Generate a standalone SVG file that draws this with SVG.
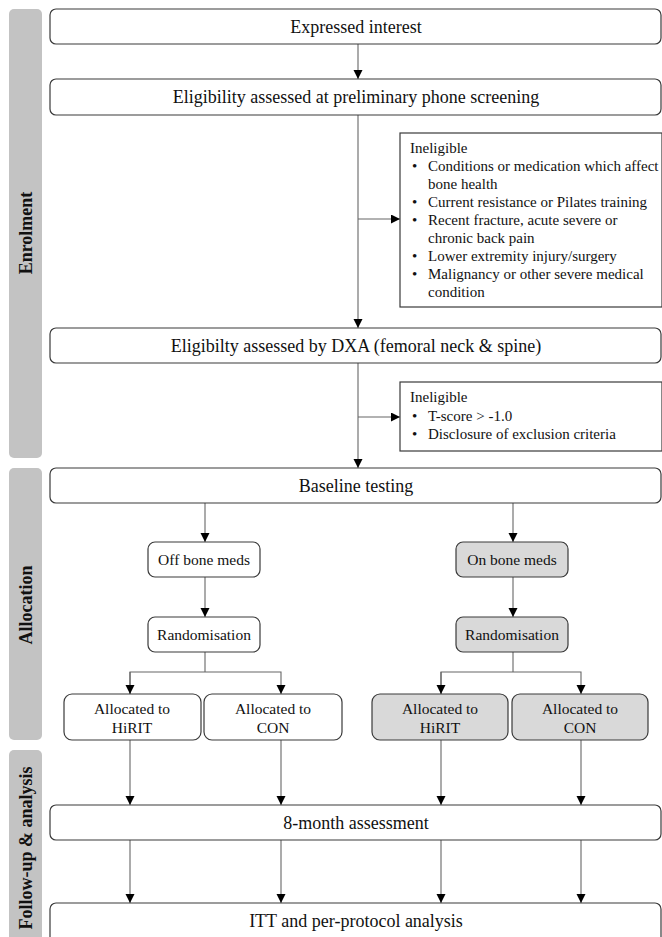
<svg xmlns="http://www.w3.org/2000/svg" width="662" height="937" viewBox="0 0 662 937" font-family="Liberation Serif, Times New Roman, serif">
<style>
text{fill:#111}
.bar{fill:#c3c3c3}
.lab{font-weight:bold;font-size:18px;text-anchor:middle}
.box{fill:#fff;stroke:#3a3a3a;stroke-width:1.2}
.gbox{fill:#d9d9d9;stroke:#3a3a3a;stroke-width:1.2}
.big{font-size:18px;text-anchor:middle}
.mid{font-size:15.5px;text-anchor:middle}
.sm{font-size:15px}
.con{stroke:#666;stroke-width:1.1;fill:none}
.arr{stroke:#666;stroke-width:1.1;fill:none;marker-end:url(#ah)}
</style>
<defs>
<marker id="ah" markerUnits="userSpaceOnUse" markerWidth="10" markerHeight="10" refX="9" refY="4.5" orient="auto">
<path d="M0,0 L9,4.5 L0,9 z" fill="#000"/>
</marker>
</defs>
<g id="sidebars">
<rect class="bar" x="9" y="9" width="33" height="449" rx="5"/>
<text class="lab" transform="translate(32,233) rotate(-90)">Enrolment</text>
<rect class="bar" x="9" y="468" width="33" height="272" rx="5"/>
<text class="lab" transform="translate(32,605) rotate(-90)">Allocation</text>
<rect class="bar" x="9" y="750" width="33" height="200" rx="5"/>
<text class="lab" transform="translate(32,848) rotate(-90)">Follow-up &amp; analysis</text>
</g>
<g id="connectors">
<line class="arr" x1="358" y1="44" x2="358" y2="79"/>
<line class="arr" x1="358" y1="115" x2="358" y2="328"/>
<line class="arr" x1="358" y1="219" x2="400" y2="219"/>
<line class="arr" x1="358" y1="363" x2="358" y2="468"/>
<line class="arr" x1="358" y1="417" x2="400" y2="417"/>
<line class="arr" x1="205" y1="503" x2="205" y2="542"/>
<line class="arr" x1="513" y1="503" x2="513" y2="542"/>
<line class="arr" x1="205" y1="577" x2="205" y2="617"/>
<line class="arr" x1="513" y1="577" x2="513" y2="617"/>
<line class="con" x1="205" y1="652" x2="205" y2="672"/>
<polyline class="arr" points="130,694 130,672 281,672 281,694"/>
<line class="arr" x1="130" y1="672" x2="130" y2="694"/>
<line class="con" x1="513" y1="652" x2="513" y2="672"/>
<polyline class="arr" points="441,694 441,672 581,672 581,694"/>
<line class="arr" x1="441" y1="672" x2="441" y2="694"/>
<line class="arr" x1="130" y1="740" x2="130" y2="805"/>
<line class="arr" x1="281" y1="740" x2="281" y2="805"/>
<line class="arr" x1="441" y1="740" x2="441" y2="805"/>
<line class="arr" x1="581" y1="740" x2="581" y2="805"/>
<line class="arr" x1="130" y1="840" x2="130" y2="903"/>
<line class="arr" x1="281" y1="840" x2="281" y2="903"/>
<line class="arr" x1="441" y1="840" x2="441" y2="903"/>
<line class="arr" x1="581" y1="840" x2="581" y2="903"/>
</g>
<g id="expressed">
<rect class="box" x="50" y="9" width="611" height="35" rx="6"/>
<text class="big" x="356" y="33">Expressed interest</text>
</g>
<g id="phone">
<rect class="box" x="50" y="79" width="611" height="36" rx="6"/>
<text class="big" x="356" y="103">Eligibility assessed at preliminary phone screening</text>
</g>
<g id="inelig1">
<rect class="box" x="400" y="133" width="262" height="174"/>
<text class="sm" x="410" y="153">Ineligible</text>
<text class="sm" x="412" y="171">•</text><text class="sm" x="428" y="171">Conditions or medication which affect</text>
<text class="sm" x="428" y="189">bone health</text>
<text class="sm" x="412" y="207">•</text><text class="sm" x="428" y="207">Current resistance or Pilates training</text>
<text class="sm" x="412" y="225">•</text><text class="sm" x="428" y="225">Recent fracture, acute severe or</text>
<text class="sm" x="428" y="243">chronic back pain</text>
<text class="sm" x="412" y="261">•</text><text class="sm" x="428" y="261">Lower extremity injury/surgery</text>
<text class="sm" x="412" y="279">•</text><text class="sm" x="428" y="279">Malignancy or other severe medical</text>
<text class="sm" x="428" y="297">condition</text>
</g>
<g id="dxa">
<rect class="box" x="50" y="328" width="611" height="35" rx="6"/>
<text class="big" x="356" y="352">Eligibilty assessed by DXA (femoral neck &amp; spine)</text>
</g>
<g id="inelig2">
<rect class="box" x="400" y="382" width="262" height="69"/>
<text class="sm" x="410" y="402">Ineligible</text>
<text class="sm" x="412" y="421">•</text><text class="sm" x="428" y="421">T-score &gt; -1.0</text>
<text class="sm" x="412" y="439">•</text><text class="sm" x="428" y="439">Disclosure of exclusion criteria</text>
</g>
<g id="baseline">
<rect class="box" x="50" y="468" width="611" height="35" rx="6"/>
<text class="big" x="356" y="492">Baseline testing</text>
</g>
<g id="offmeds">
<rect class="box" x="148" y="542" width="112" height="35" rx="7"/>
<text class="mid" x="204" y="565">Off bone meds</text>
</g>
<g id="onmeds">
<rect class="gbox" x="456" y="542" width="112" height="35" rx="7"/>
<text class="mid" x="512" y="565">On bone meds</text>
</g>
<g id="rand1">
<rect class="box" x="148" y="617" width="112" height="35" rx="7"/>
<text class="mid" x="204" y="640">Randomisation</text>
</g>
<g id="rand2">
<rect class="gbox" x="456" y="617" width="112" height="35" rx="7"/>
<text class="mid" x="512" y="640">Randomisation</text>
</g>
<g id="hirit1">
<rect class="box" x="64" y="694" width="137" height="46" rx="8"/>
<text class="mid" x="132" y="714">Allocated to</text>
<text class="mid" x="132" y="733">HiRIT</text>
</g>
<g id="con1">
<rect class="box" x="204" y="694" width="138" height="46" rx="8"/>
<text class="mid" x="273" y="714">Allocated to</text>
<text class="mid" x="273" y="733">CON</text>
</g>
<g id="hirit2">
<rect class="gbox" x="372" y="694" width="136" height="46" rx="8"/>
<text class="mid" x="440" y="714">Allocated to</text>
<text class="mid" x="440" y="733">HiRIT</text>
</g>
<g id="con2">
<rect class="gbox" x="512" y="694" width="136" height="46" rx="8"/>
<text class="mid" x="580" y="714">Allocated to</text>
<text class="mid" x="580" y="733">CON</text>
</g>
<g id="followup">
<rect class="box" x="50" y="805" width="611" height="35" rx="6"/>
<text class="big" x="356" y="829">8-month assessment</text>
</g>
<g id="itt">
<rect class="box" x="50" y="903" width="611" height="40" rx="6"/>
<text class="big" x="356" y="927">ITT and per-protocol analysis</text>
</g>
</svg>
